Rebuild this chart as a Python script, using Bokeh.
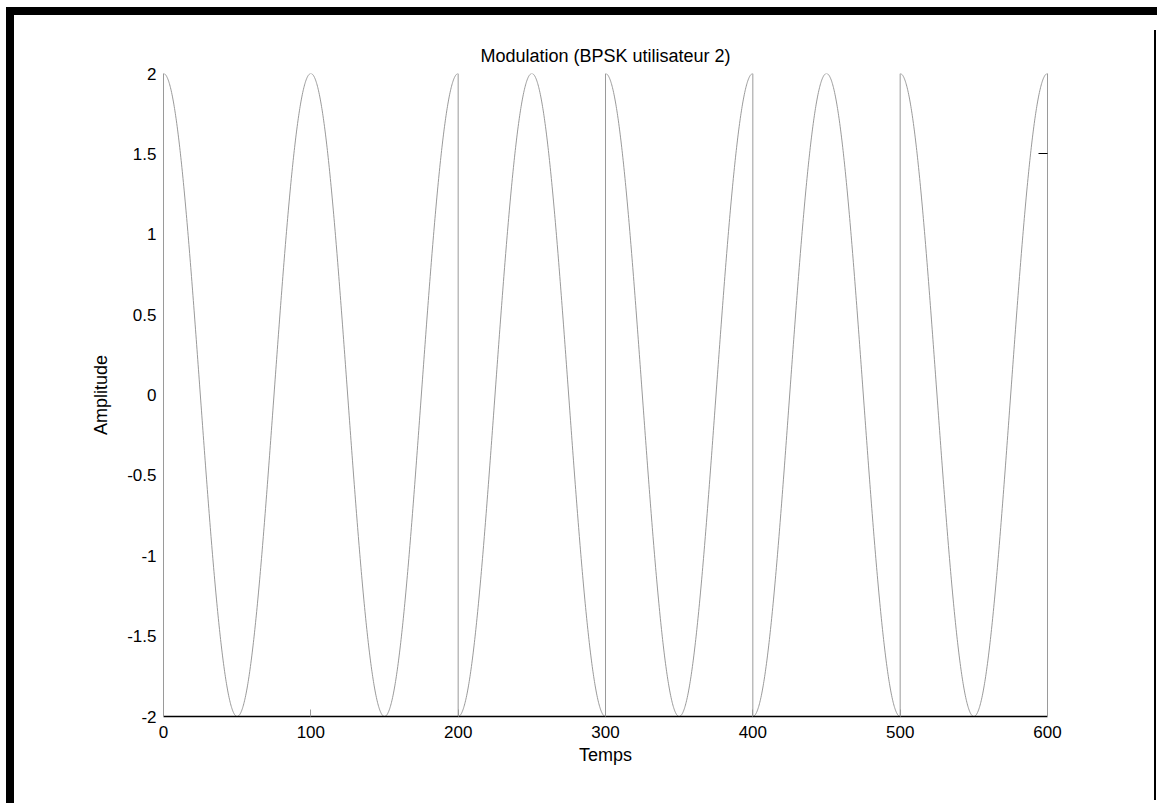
import numpy as np
from bokeh.plotting import figure
from bokeh.models import FixedTicker, LinearAxis, ColumnDataSource
from bokeh.embed import file_html
from bokeh.resources import INLINE

# BPSK data: one symbol per 100 time units, carrier period 100, amplitude 2
bits = [1, 1, -1, 1, -1, 1]
symbol_len = 100
carrier_period = 100
amplitude = 2

x_ticks = [0, 100, 200, 300, 400, 500, 600]
y_ticks = [-2, -1.5, -1, -0.5, 0, 0.5, 1, 1.5, 2]
y_tick_labels = ["-2", "-1.5", "-1", "-0.5", "0", "0.5", "1", "1.5", "2"]

# build the modulated waveform symbol by symbol so phase flips are vertical
t_parts, s_parts = [], []
for k, b in enumerate(bits):
    t = np.linspace(k * symbol_len, (k + 1) * symbol_len, 401)
    t_parts.append(t)
    s_parts.append(b * amplitude * np.cos(2 * np.pi * t / carrier_period))
t_all = np.concatenate(t_parts)
s_all = np.concatenate(s_parts)

FONT = "Liberation Sans"
GRAY = "#9a9a9a"

W, H = 1157, 804
p = figure(width=W, height=H, output_backend="svg", toolbar_location=None,
           x_range=(0, 600), y_range=(-2, 2),
           min_border_left=163, min_border_right=110,
           min_border_top=73, min_border_bottom=88,
           title="Modulation (BPSK utilisateur 2)")
p.outline_line_color = None
p.xgrid.grid_line_color = None
p.ygrid.grid_line_color = None
p.background_fill_color = "white"
p.border_fill_color = None

# page frame: thick bars top and left, thin line at the right edge
p.styles = {
    "background": (
        "linear-gradient(#000, #000) 6px 7px / 1151px 8px no-repeat, "
        "linear-gradient(#000, #000) 6px 7px / 8px 796px no-repeat, "
        "linear-gradient(#000, #000) 1154px 30px / 2px 770px no-repeat, "
        "#fff"
    ),
}

p.title.align = "center"
p.title.text_font = FONT
p.title.text_font_style = "normal"
p.title.text_font_size = "18px"
p.title.text_color = "black"
p.title.standoff = 16

src = ColumnDataSource(dict(t=t_all, s=s_all))
p.line("t", "s", source=src, line_color=GRAY, line_width=1)

# bottom axis
xa = p.xaxis[0]
xa.ticker = FixedTicker(ticks=x_ticks)
xa.axis_line_color = "black"
xa.axis_line_width = 1.5
xa.major_tick_in = 7
xa.major_tick_out = 0
xa.major_tick_line_color = GRAY
xa.minor_tick_line_color = None
xa.major_label_standoff = 9
xa.major_label_text_font = FONT
xa.major_label_text_font_size = "17px"
xa.major_label_text_color = "black"
xa.axis_label = "Temps"
xa.axis_label_text_font = FONT
xa.axis_label_text_font_style = "normal"
xa.axis_label_text_font_size = "18px"
xa.axis_label_text_color = "black"
xa.axis_label_standoff = 4

# left axis
ya = p.yaxis[0]
ya.ticker = FixedTicker(ticks=y_ticks)
ya.major_label_overrides = {v: s for v, s in zip(y_ticks, y_tick_labels)}
ya.axis_line_color = GRAY
ya.major_tick_line_color = None
ya.minor_tick_line_color = None
ya.major_tick_out = 0
ya.major_tick_in = 0
ya.major_label_standoff = 7
ya.major_label_text_font = FONT
ya.major_label_text_font_size = "17px"
ya.major_label_text_color = "black"
ya.axis_label = "Amplitude"
ya.axis_label_text_font = FONT
ya.axis_label_text_font_style = "normal"
ya.axis_label_text_font_size = "18px"
ya.axis_label_text_color = "black"
ya.axis_label_standoff = 13

# right axis: frame edge with a single inner tick
ra = LinearAxis(ticker=FixedTicker(ticks=[1.5]))
ra.axis_line_color = GRAY
ra.major_tick_line_color = "black"
ra.major_tick_in = 9
ra.major_tick_out = 0
ra.minor_tick_line_color = None
ra.major_label_text_color = None
ra.major_label_text_font_size = "1px"
p.add_layout(ra, "right")

open("out.html", "w").write(file_html(p, INLINE))
